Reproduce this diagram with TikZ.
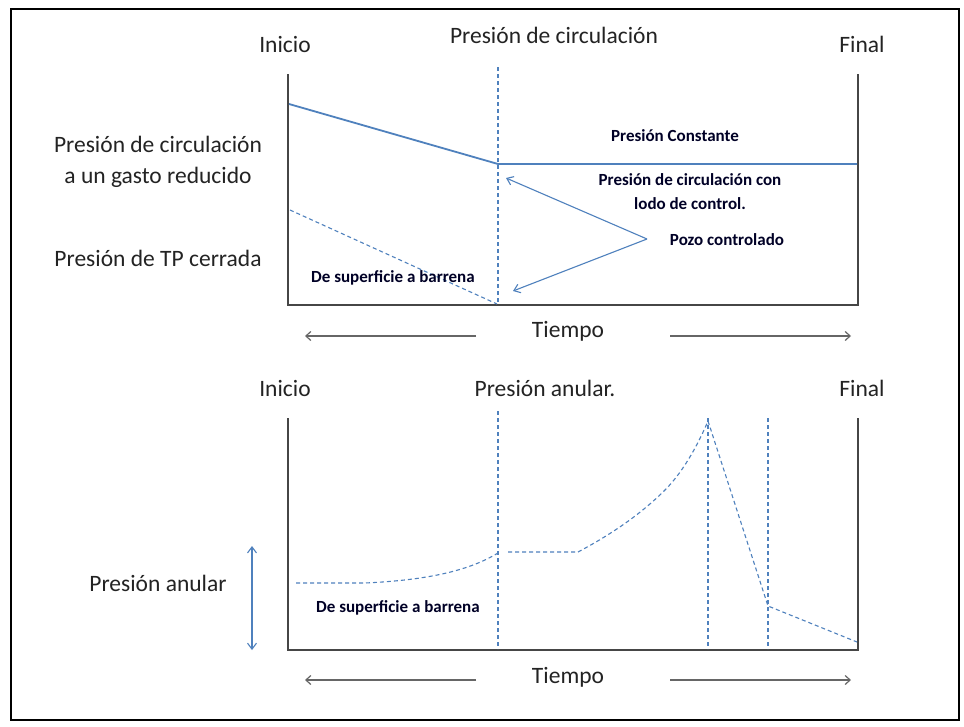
\documentclass[tikz,border=0pt]{standalone}
\usepackage{fontspec}
\setmainfont{Carlito}
\usetikzlibrary{arrows.meta}
\definecolor{lineblue}{RGB}{79,129,189}
\definecolor{txt}{RGB}{35,35,35}
\definecolor{axisgray}{RGB}{70,70,70}
\tikzset{
  bigtxt/.style={font=\fontsize{23.5}{28}\selectfont, text=txt, inner sep=0pt, align=center},
  smalltxt/.style={font=\fontsize{17}{24}\selectfont\bfseries, text=black!85!blue, inner sep=0pt, align=center},
  axisline/.style={draw=axisgray, line width=2.6pt},
  dashblue/.style={draw=lineblue, line width=1.1pt, dash pattern=on 4pt off 3pt},
  solidblue/.style={draw=lineblue, line width=1.8pt},
  pointer/.style={draw=lineblue, line width=1.1pt, -{Straight Barb[length=6pt,width=9pt]}},
  timearrow/.style={draw=gray!80!black, line width=1.2pt, -{Straight Barb[length=5pt,width=9pt]}},
  dblarrow/.style={draw=lineblue, line width=1.1pt, {Straight Barb[length=6pt,width=9pt]}-{Straight Barb[length=6pt,width=9pt]}}
}
\begin{document}
\begin{tikzpicture}[x=1pt,y=-1pt]
\useasboundingbox (0,0) rectangle (964,726);
\fill[white] (0,0) rectangle (964,726);
\draw[black, line width=2pt] (11,9) rectangle (959,720);

% ---------- top chart ----------
\node[bigtxt] (ini1) at (285,44) {Inicio};
\node[bigtxt] (tit1) at (554,35) {Presión de circulación};
\node[bigtxt] (fin1) at (862,44) {Final};

\coordinate (a1tl) at (288,74);
\coordinate (a1bl) at (288,305);
\coordinate (a1br) at (858,305);
\coordinate (a1tr) at (858,74);
\draw[axisline] (a1tl) -- (a1bl) -- (a1br) -- (a1tr);

\coordinate (v1t) at (498,67);
\coordinate (v1b) at (498,304);
\draw[dashblue] (v1t) -- (v1b);

\coordinate (s1) at (289,104);
\coordinate (s2) at (498,164);
\coordinate (s3) at (857,164);
\draw[solidblue] (s1) -- (s2) -- (s3);

\coordinate (d1) at (290,210);
\coordinate (d2) at (497,304);
\draw[dashblue] (d1) -- (d2);

\node[bigtxt] (lab1) at (158,162) {Presión de circulación\\[3pt]a un gasto reducido};
\node[bigtxt] (lab2) at (158,258) {Presión de TP cerrada};
\node[smalltxt] (sup1) at (393,278) {De superficie a barrena};
\node[smalltxt] (cons) at (675,136) {Presión Constante};
\node[smalltxt] (lodo) at (690,192) {Presión de circulación con\\lodo de control.};
\node[smalltxt] (pozo) at (727,240) {Pozo controlado};

\coordinate (pv) at (647,239);
\coordinate (pu) at (506,178);
\coordinate (pd) at (513,291);
\draw[pointer] (pv) -- (pu);
\draw[pointer] (pv) -- (pd);

\node[bigtxt] (tie1) at (568,331) {Tiempo};
\coordinate (t1l) at (305,336);
\coordinate (t1r) at (851,336);
\draw[timearrow] (476,336) -- (t1l);
\draw[timearrow] (670,336) -- (t1r);

% ---------- bottom chart ----------
\node[bigtxt] (ini2) at (285,388) {Inicio};
\node[bigtxt] (tit2) at (545,388) {Presión anular.};
\node[bigtxt] (fin2) at (862,388) {Final};

\coordinate (a2tl) at (288,418);
\coordinate (a2bl) at (288,650);
\coordinate (a2br) at (858,650);
\coordinate (a2tr) at (858,418);
\draw[axisline] (a2tl) -- (a2bl) -- (a2br) -- (a2tr);

\draw[dashblue] (498,411) -- (498,649);
\draw[dashblue] (708,418) -- (708,649);
\draw[dashblue] (768,418) -- (768,649);

\draw[dashblue] (296,583) -- (365,583) .. controls (430,580) and (470,570) .. (498,553);
\draw[dashblue] (508,552) -- (578,552) .. controls (610,535) and (640,515) .. (665,490)
   .. controls (685,470) and (700,440) .. (708,421) -- (768,606) -- (857,642);

\node[bigtxt] (lab3) at (158,583) {Presión anular};
\coordinate (da) at (252,546);
\coordinate (db) at (252,650);
\draw[dblarrow] (da) -- (db);
\node[smalltxt] (sup2) at (398,608) {De superficie a barrena};

\node[bigtxt] (tie2) at (568,677) {Tiempo};
\coordinate (t2l) at (305,680);
\coordinate (t2r) at (851,680);
\draw[timearrow] (476,680) -- (t2l);
\draw[timearrow] (670,680) -- (t2r);
\end{tikzpicture}
\end{document}
